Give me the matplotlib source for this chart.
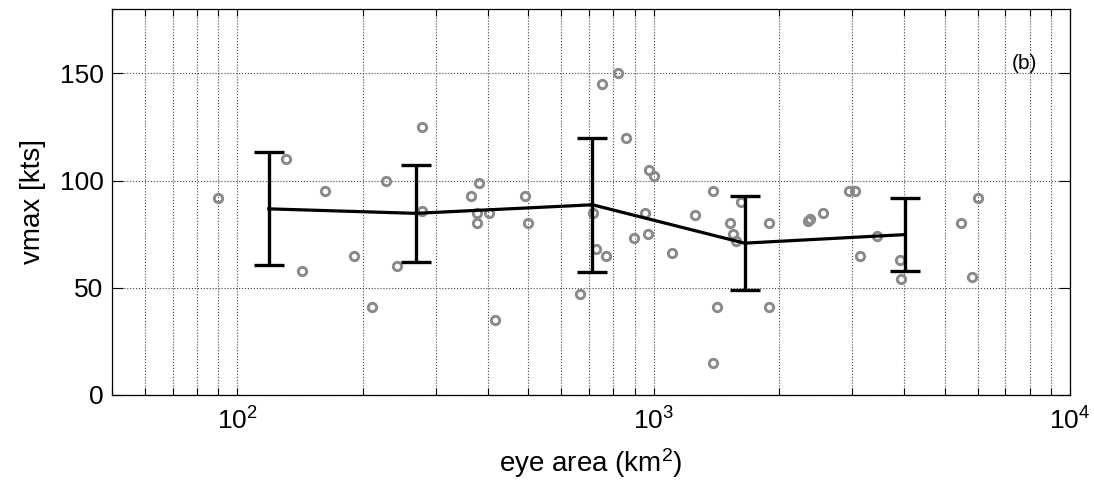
import matplotlib
matplotlib.use("Agg")
import matplotlib.pyplot as plt
from matplotlib.ticker import LogLocator, NullFormatter, MultipleLocator

plt.rcParams['font.family'] = ['Liberation Sans', 'DejaVu Sans']
plt.rcParams['mathtext.default'] = 'regular'

# individual storms: eye area (km^2) and vmax (kts)
eye_area = [90, 131, 143, 162, 191, 211, 228, 242, 277, 277,
            364, 381, 377, 377, 402, 415, 491, 500, 664, 715,
            726, 770, 750, 823, 857, 899, 953, 967, 974, 1000,
            1105, 1257, 1388, 1419, 1388, 1522, 1549, 1578, 1620, 1898,
            1892, 2351, 2370, 2549, 2950, 3040, 3134, 3435, 3909, 3920,
            5464, 6015, 5820]
vmax = [92, 110, 58, 95, 65, 41, 100, 60, 125, 86,
        93, 99, 85, 80, 85, 35, 93, 80, 47, 85,
        68, 65, 145, 150, 120, 73, 85, 75, 105, 102,
        66, 84, 95, 41, 15, 80, 75, 72, 90, 80,
        41, 81, 82, 85, 95, 95, 65, 74, 63, 54,
        80, 92, 55]

# bin averages with standard deviation
bin_area = [119, 268, 713, 1653, 4025]
bin_mean = [86.8, 84.7, 88.7, 70.8, 74.8]
bin_std = [26.4, 22.7, 31.2, 22.0, 17.0]

fig = plt.figure(figsize=(10.94, 4.87), dpi=100)
ax = fig.add_axes([0.1024, 0.189, 0.8756, 0.7925])

ax.plot(eye_area, vmax, linestyle='none', marker='o', ms=6.0,
        mfc='none', mec='#8a8a8a', mew=2.1, zorder=3)
ax.errorbar(bin_area, bin_mean, yerr=bin_std, color='k', lw=2.3,
            elinewidth=2.4, capsize=11, capthick=2.4, zorder=4)

ax.set_xscale('log')
ax.set_xlim(50, 1e4)
ax.set_ylim(0, 180)
ax.yaxis.set_major_locator(MultipleLocator(50))
ax.xaxis.set_major_locator(LogLocator(base=10))
ax.xaxis.set_minor_locator(LogLocator(base=10, subs=range(2, 10)))
ax.xaxis.set_minor_formatter(NullFormatter())

ax.grid(True, which='major', linestyle=':', color='#444444', lw=0.8)
ax.grid(True, which='minor', axis='x', linestyle=':', color='#444444', lw=0.8)

ax.tick_params(which='both', direction='in', top=True, right=True,
               labelsize=19, width=0.8)
ax.tick_params(axis='y', which='major', length=8, pad=6)
ax.tick_params(axis='x', which='both', length=5, pad=9)
for s in ax.spines.values():
    s.set_linewidth(0.9)

ax.set_xlabel('eye area (km$^2$)', fontsize=20, labelpad=8)
ax.set_ylabel('vmax [kts]', fontsize=20, labelpad=10)
ax.text(0.952, 0.86, '(b)', transform=ax.transAxes, fontsize=15,
        ha='center', va='center')

fig.savefig('out.png', dpi=100)
